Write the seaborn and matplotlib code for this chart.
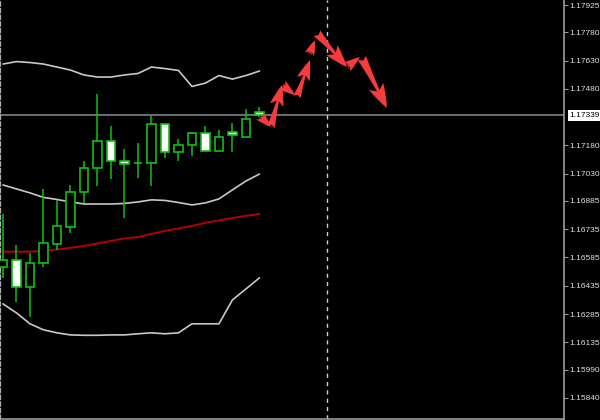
import numpy as np
import pandas as pd
import matplotlib
matplotlib.use("Agg")
import matplotlib.pyplot as plt
import matplotlib.transforms as mtransforms
import seaborn as sns

# ---------------- data ----------------
bar_index = list(range(20))
opens  = [1.16535, 1.16572, 1.16429, 1.16556, 1.16657, 1.16747, 1.16933, 1.17060, 1.17204, 1.17097,
          1.17087, 1.17087, 1.17294, 1.17145, 1.17182, 1.17246, 1.17150, 1.17251, 1.17225, 1.17357]
highs  = [1.16816, 1.16652, 1.16609, 1.16949, 1.16891, 1.16970, 1.17097, 1.17453, 1.17283, 1.17161,
          1.17193, 1.17336, 1.17294, 1.17214, 1.17251, 1.17283, 1.17262, 1.17299, 1.17373, 1.17384]
lows   = [1.16477, 1.16349, 1.16270, 1.16535, 1.16625, 1.16716, 1.16875, 1.16965, 1.17002, 1.16795,
          1.17007, 1.16965, 1.17113, 1.17097, 1.17124, 1.17150, 1.17150, 1.17145, 1.17225, 1.17331]
closes = [1.16572, 1.16429, 1.16556, 1.16662, 1.16753, 1.16933, 1.17060, 1.17204, 1.17097, 1.17081,
          1.17087, 1.17294, 1.17145, 1.17182, 1.17246, 1.17150, 1.17225, 1.17235, 1.17320, 1.17339]

bb_upper  = [1.17612, 1.17625, 1.17620, 1.17612, 1.17596, 1.17580, 1.17554, 1.17543, 1.17543, 1.17554,
             1.17562, 1.17596, 1.17588, 1.17578, 1.17493, 1.17511, 1.17551, 1.17532, 1.17551, 1.17575]
bb_middle = [1.16970, 1.16949, 1.16928, 1.16904, 1.16893, 1.16880, 1.16869, 1.16869, 1.16869, 1.16872,
             1.16880, 1.16891, 1.16888, 1.16877, 1.16864, 1.16875, 1.16896, 1.16944, 1.16991, 1.17028]
bb_lower  = [1.16339, 1.16291, 1.16233, 1.16201, 1.16185, 1.16174, 1.16172, 1.16172, 1.16174, 1.16174,
             1.16180, 1.16185, 1.16180, 1.16185, 1.16233, 1.16233, 1.16233, 1.16360, 1.16418, 1.16477]
ma_red    = [1.16616, 1.16616, 1.16616, 1.16620, 1.16628, 1.16636, 1.16647, 1.16660, 1.16673, 1.16686,
             1.16694, 1.16710, 1.16726, 1.16739, 1.16753, 1.16769, 1.16782, 1.16795, 1.16806, 1.16816]

# forecast arrows: (start bar, start price) -> (end bar, end price)
arrow_start_bar   = [19.11, 19.85, 20.67, 21.78, 22.74, 23.26, 25.48, 26.59]
arrow_start_price = [1.17331, 1.17278, 1.17501, 1.17437, 1.17670, 1.17776, 1.17596, 1.17644]
arrow_end_bar     = [19.85, 20.67, 21.63, 22.74, 23.11, 25.48, 26.44, 28.44]
arrow_end_price   = [1.17278, 1.17501, 1.17448, 1.17633, 1.17739, 1.17596, 1.17649, 1.17379]

price_ticks = [1.17925, 1.17780, 1.17630, 1.17480, 1.17180, 1.17030, 1.16885, 1.16735,
               1.16585, 1.16435, 1.16285, 1.16135, 1.15990, 1.15840]
current_price = 1.17339
marker_bar = 24

# ---------------- style ----------------
sns.set_style("dark")
plt.rcParams['font.family'] = ['Liberation Sans', 'DejaVu Sans']

BG = "#000000"
GREEN = "#10c010"
BAND = "#c8c8c8"
RED_MA = "#b40000"
ARROW = "#f43c3c"
GRID_GRAY = "#9a9a9a"

fig = plt.figure(figsize=(6.0, 4.2), dpi=100, facecolor=BG)
ax = fig.add_axes([0.0, 0.003, 0.94, 0.997])
ax.set_facecolor(BG)

df = pd.DataFrame({"bar": bar_index, "open": opens, "high": highs, "low": lows, "close": closes,
                   "upper": bb_upper, "middle": bb_middle, "lower": bb_lower, "ma": ma_red})

# bands and MA via seaborn
for col, colr, lw in [("upper", BAND, 1.2), ("middle", BAND, 1.2), ("lower", BAND, 1.2), ("ma", RED_MA, 1.4)]:
    sns.lineplot(data=df, x="bar", y=col, ax=ax, color=colr, linewidth=lw, legend=False, zorder=2)

# horizontal current price line and vertical dashed marker
ax.axhline(current_price, color="#7c828c", linewidth=1.2, zorder=1)
ax.axvline(marker_bar, color="#d0d0d0", linewidth=1.0, linestyle=(0, (3, 3)), zorder=1)

# candles
ax.vlines(df["bar"], df["low"], df["high"], color=GREEN, linewidth=1.1, zorder=3)
body_bottom = np.minimum(df["open"], df["close"])
body_height = np.abs(df["close"] - df["open"])
fills = [("#ffffff" if c < o else BG) for o, c in zip(opens, closes)]
ax.bar(df["bar"], body_height, bottom=body_bottom, width=0.62, color=fills,
       edgecolor=GREEN, linewidth=1.2, zorder=4)

# forecast arrows
for sx, sy, ex, ey in zip(arrow_start_bar, arrow_start_price, arrow_end_bar, arrow_end_price):
    p0 = ax.transData.transform((sx, sy))
    p1 = ax.transData.transform((ex, ey))
    length = np.hypot(*(p1 - p0))
    scale = 8 + 0.09 * length
    ax.annotate("", xy=(ex, ey), xytext=(sx, sy),
                arrowprops=dict(arrowstyle="fancy,head_length=1.1,head_width=0.72,tail_width=0.42",
                                color=ARROW, lw=0, shrinkA=0, shrinkB=0, mutation_scale=scale),
                zorder=6)

# axes limits
ax.set_xlim(-0.22, 41.56)
ax.set_ylim(1.15729, 1.17952)

# axis cosmetics
ax.grid(False)
ax.yaxis.tick_right()
ax.set_yticks(price_ticks)
ax.set_yticklabels([f"{p:.5f}" for p in price_ticks])
ax.tick_params(axis="y", colors=GRID_GRAY, labelcolor="#e0e0e0", length=3, width=0.8,
               direction="out", pad=1, labelsize=6)
ax.set_xticks([])
ax.set_xlabel("")
ax.set_ylabel("")
for side in ["right", "bottom"]:
    ax.spines[side].set_visible(True)
    ax.spines[side].set_color(GRID_GRAY)
    ax.spines[side].set_linewidth(1.2)
ax.spines["top"].set_visible(False)
ax.spines["left"].set_visible(True)
ax.spines["left"].set_color("#b0b0b0")
ax.spines["left"].set_linewidth(1.6)
ax.spines["left"].set_linestyle((0, (1.5, 1.5)))

# current price label
trans = mtransforms.blended_transform_factory(ax.transAxes, ax.transData)
ax.text(1.01, current_price, f"{current_price:.5f}", transform=trans, ha="left", va="center",
        fontsize=6, color="#000000", zorder=10, clip_on=False,
        bbox=dict(boxstyle="square,pad=0.25", facecolor="#ffffff", edgecolor="none"))

fig.savefig("out.png", dpi=100, facecolor=BG)
